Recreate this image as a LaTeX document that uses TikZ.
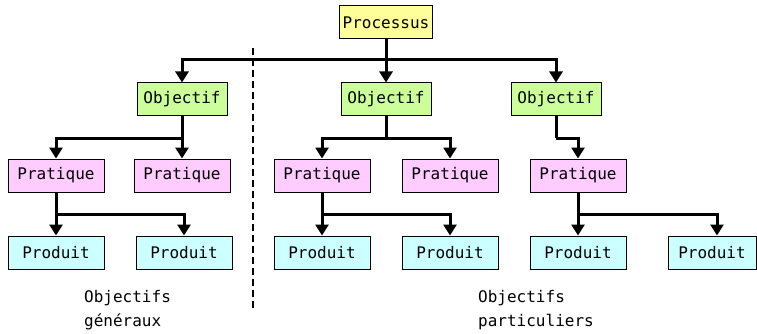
\documentclass[tikz,border=0pt]{standalone}
\usepackage{fontspec}
\usepackage{xcolor}
\usepackage{tikz}
\usetikzlibrary{arrows.meta}
\newfontfamily\boxfont{DejaVu Sans Mono}

\definecolor{procfill}{HTML}{FFFF99}
\definecolor{objfill}{HTML}{CCFF99}
\definecolor{prafill}{HTML}{FFCCFF}
\definecolor{prodfill}{HTML}{CCFFFF}

\begin{document}
\begin{tikzpicture}[x=1pt,y=-1pt,
    font=\boxfont\fontsize{16}{24}\selectfont,
    box/.style={draw,line width=1pt,minimum height=33pt,inner sep=0pt},
    procbox/.style={box,fill=procfill,minimum width=93pt},
    objbox/.style={box,fill=objfill,minimum width=90pt},
    prabox/.style={box,fill=prafill,minimum width=96pt},
    prodbox/.style={box,fill=prodfill,minimum width=96pt},
    link/.style={line width=3pt},
    arr/.style={link,-{Triangle[width=13pt,length=11pt]}}]
    \useasboundingbox (0,0) rectangle (757,334);

    % Processus
    \node[procbox] (proc) at (386,22.5) {Processus};
    \node[objbox] (obj1) at (182,99.5) {Objectif};
    \node[objbox] (obj2) at (386,99.5) {Objectif};
    \node[objbox] (obj3) at (556,99.5) {Objectif};
    \coordinate (b0) at (386,60);
    \draw[link] (proc) -- (b0);
    \draw[arr] (b0) -| (obj1);
    \draw[arr] (b0) -- (obj2);
    \draw[arr] (b0) -| (obj3);

    % Objectifs generaux
    \node[prabox] (pra1) at (56,175.5) {Pratique};
    \node[prabox] (pra2) at (182,175.5) {Pratique};
    \node[prodbox] (pro1) at (56,252.5) {Produit};
    \node[prodbox] (pro2) at (184,252.5) {Produit};
    \coordinate (b1) at (182,138);
    \coordinate (c1) at (56,214);
    \draw[link] (obj1) -- (b1);
    \draw[arr] (b1) -| (pra1);
    \draw[arr] (b1) -- (pra2);
    \draw[link] (pra1) -- (c1);
    \draw[arr] (c1) -- (pro1);
    \draw[arr] (c1) -| (pro2);
    \node[align=left,anchor=north west,inner sep=0pt] (gen) at (84,290) {Objectifs\\g\'en\'eraux};

    % separation
    \coordinate (s1) at (253,48);
    \coordinate (s2) at (253,311);
    \draw[line width=2.5pt,dash pattern=on 7pt off 4pt] (s1) -- (s2);

    % Objectifs particuliers
    \node[prabox] (pra3) at (322,175.5) {Pratique};
    \node[prabox] (pra4) at (450,175.5) {Pratique};
    \node[prabox] (pra5) at (578,175.5) {Pratique};
    \node[prodbox] (pro3) at (322,252.5) {Produit};
    \node[prodbox] (pro4) at (450,252.5) {Produit};
    \node[prodbox] (pro5) at (578,252.5) {Produit};
    \node[prodbox,minimum width=88pt] (pro6) at (712,252.5) {Produit};
    \coordinate (b2) at (386,138);
    \coordinate (b3) at (556,138);
    \coordinate (c3) at (322,214);
    \coordinate (c5) at (578,214);
    \draw[link] (obj2) -- (b2);
    \draw[arr] (b2) -| (pra3);
    \draw[arr] (b2) -| (pra4);
    \draw[link] (obj3) -- (b3);
    \draw[arr] (b3) -| (pra5);
    \draw[link] (pra3) -- (c3);
    \draw[arr] (c3) -- (pro3);
    \draw[arr] (c3) -| (pro4);
    \draw[link] (pra5) -- (c5);
    \draw[arr] (c5) -- (pro5);
    \draw[arr] (c5) -| ([xshift=5pt]pro6.north);
    \node[align=left,anchor=north west,inner sep=0pt] (part) at (478,290) {Objectifs\\particuliers};
\end{tikzpicture}
\end{document}
